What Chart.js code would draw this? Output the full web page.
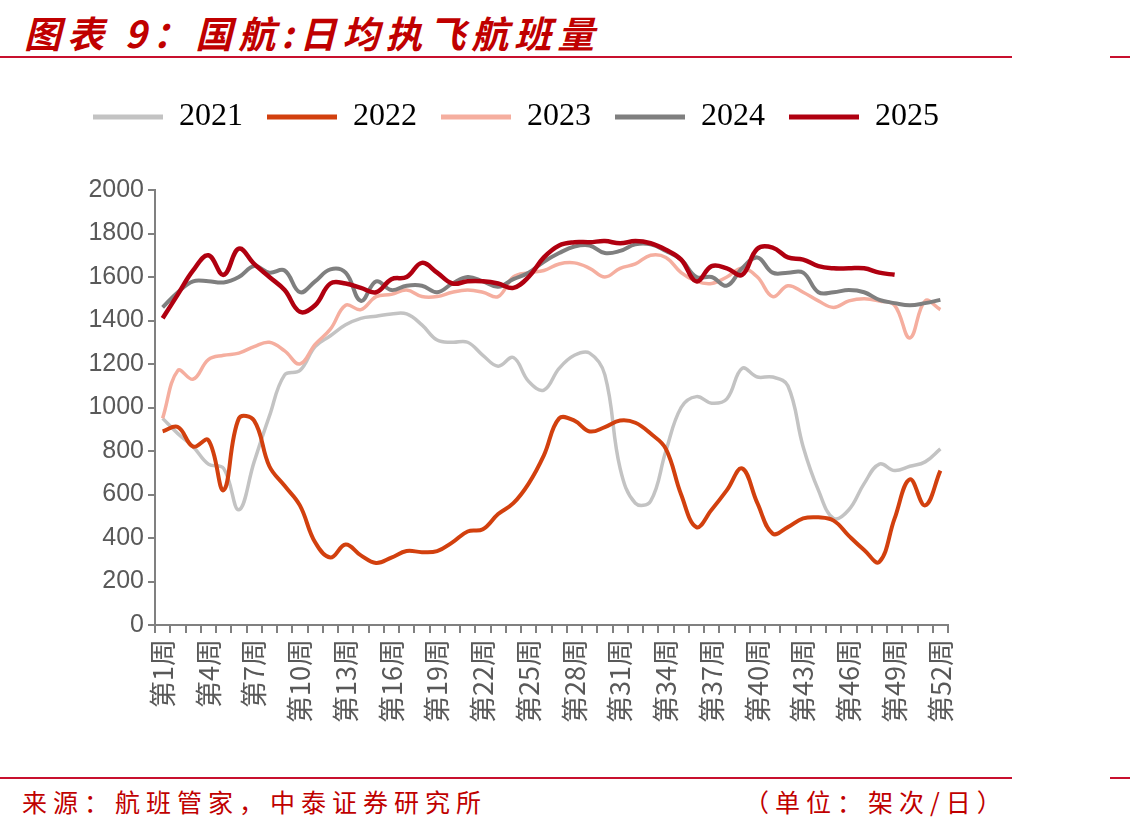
<!DOCTYPE html>
<html>
<head>
<meta charset="utf-8">
<script src="https://cdn.jsdelivr.net/npm/chart.js@4/dist/chart.umd.min.js"></script>
<style>
  html, body { margin:0; padding:0; background:#fff; }
  body { width:1130px; height:831px; position:relative; overflow:hidden; }
  .title {
    position:absolute; left:24px; top:5px;
    font:italic bold 37px "Noto Sans CJK SC", sans-serif;
    color:#C00000; letter-spacing:6px; white-space:nowrap;
  }
  .rule { position:absolute; height:2px; background:#C8102E; }
  .foot {
    position:absolute; top:783px;
    font:25px "Noto Sans CJK SC", sans-serif; color:#C00000; white-space:nowrap;
    letter-spacing:6px;
  }
  #wrap { position:absolute; left:0; top:77px; width:1032px; height:690px; }
</style>
</head>
<body>
<div class="title">图表 9：国航:日均执飞航班量</div>
<div class="rule" style="left:0;top:56px;width:1012px"></div>
<div class="rule" style="left:1110px;top:56px;width:20px"></div>

<div id="wrap"><canvas id="chart"></canvas></div>

<div class="rule" style="left:0;top:777px;width:1012px"></div>
<div class="rule" style="left:1110px;top:777px;width:20px"></div>
<div class="foot" style="left:22px">来源：航班管家，中泰证券研究所</div>
<div class="foot" style="left:744px">（单位：架次/日）</div>

<script>
/* ---------- data ---------- */
const weeks = Array.from({length:52}, (_, i) => `第${i+1}周`);
const yTicks = [0, 200, 400, 600, 800, 1000, 1200, 1400, 1600, 1800, 2000];

const y2021 = [950, 880, 820, 740, 720, 530, 750, 960, 1150, 1170,
               1280, 1330, 1380, 1410, 1420, 1430, 1430, 1380, 1310, 1300,
               1300, 1240, 1190, 1230, 1120, 1080, 1180, 1240, 1250, 1150,
               720, 560, 570, 800, 1000, 1050, 1020, 1040, 1180, 1140,
               1140, 1100, 820, 620, 490, 530, 650, 740, 710, 730,
               750, 810];
const y2022 = [890, 910, 820, 850, 620, 950, 940, 730, 640, 550,
               380, 310, 370, 320, 285, 310, 340, 335, 340, 380,
               430, 440, 510, 560, 650, 780, 950, 940, 890, 910,
               940, 930, 880, 810, 600, 450, 530, 620, 720, 560,
               420, 450, 490, 495, 480, 410, 345, 290, 490, 670,
               550, 710];
const y2023 = [950, 1170, 1130, 1220, 1240, 1250, 1280, 1300, 1260, 1200,
               1290, 1360, 1470, 1450, 1510, 1520, 1540, 1510, 1510, 1530,
               1540, 1530, 1510, 1600, 1620, 1630, 1660, 1665, 1640, 1600,
               1640, 1660, 1700, 1690, 1620, 1580, 1570, 1600, 1640, 1600,
               1510, 1560, 1530, 1490, 1460, 1490, 1500, 1490, 1470, 1320,
               1490, 1450];
const y2024 = [1460, 1530, 1580, 1580, 1575, 1600, 1650, 1620, 1630, 1530,
               1580, 1635, 1620, 1490, 1580, 1540, 1560, 1560, 1530, 1570,
               1600, 1580, 1555, 1590, 1620, 1670, 1710, 1740, 1745, 1710,
               1720, 1750, 1750, 1720, 1680, 1600, 1600, 1560, 1640, 1690,
               1620, 1620, 1620, 1530, 1530, 1540, 1530, 1495, 1480, 1470,
               1480, 1495];
const y2025 = [1410, 1520, 1630, 1700, 1610, 1730, 1660, 1600, 1540, 1440,
               1470, 1570, 1570, 1550, 1530, 1590, 1600, 1665, 1620, 1570,
               1580, 1580, 1570, 1550, 1600, 1690, 1745, 1760, 1760, 1765,
               1755, 1765, 1755, 1725, 1680, 1580, 1650, 1640, 1610, 1730,
               1735, 1690, 1680, 1650, 1640, 1640, 1640, 1620, 1610];

const seriesNames  = ['2021', '2022', '2023', '2024', '2025'];
const seriesValues = [y2021, y2022, y2023, y2024, y2025];
const seriesColors = ['#C3C3C3', '#D2400E', '#F5AE9F', '#7F7F7F', '#B00010'];
const seriesWidths = [3.5, 4, 3.5, 4, 4.5];

/* ---------- extra gap under the legend ---------- */
const legendGap = {
  id: 'legendGap',
  beforeInit(chart) {
    const fit = chart.legend.fit;
    chart.legend.fit = function () { fit.call(this); this.height += 47; };
  }
};

const axisGrey = '#808080';

new Chart(document.getElementById('chart'), {
  type: 'line',
  data: {
    labels: weeks,
    datasets: seriesNames.map((name, i) => ({
      label: name,
      data: seriesValues[i],
      borderColor: seriesColors[i],
      backgroundColor: seriesColors[i],
      borderWidth: seriesWidths[i],
      pointRadius: 0,
      tension: 0.4,
      order: seriesNames.length - i          // later years drawn on top
    }))
  },
  options: {
    responsive: true,
    maintainAspectRatio: false,
    animation: false,
    layout: { padding: 0 },
    plugins: {
      tooltip: { enabled: false },
      legend: {
        position: 'top',
        labels: {
          boxWidth: 70,
          boxHeight: 5,
          padding: 24,
          color: '#404040',
          font: { family: '"Liberation Serif", serif', size: 32 },
          generateLabels: chart => chart.data.datasets.map((ds, i) => ({
            text: ds.label,
            fillStyle: ds.borderColor,
            strokeStyle: ds.borderColor,
            lineWidth: 0,
            datasetIndex: i,
            hidden: false
          }))
        }
      }
    },
    scales: {
      x: {
        offset: true,
        grid: { offset: true, drawOnChartArea: false, drawTicks: true, tickLength: 8, color: axisGrey, lineWidth: 2 },
        border: { color: axisGrey, width: 2 },
        afterFit: s => { s.height = 142; },
        ticks: {
          autoSkip: false,
          maxRotation: 90,
          minRotation: 90,
          padding: 6,
          color: '#595959',
          font: { family: '"Noto Sans CJK SC", sans-serif', size: 27 },
          callback: (v, idx) => idx % 3 === 0 ? weeks[idx] : ''
        }
      },
      y: {
        min: yTicks[0],
        max: yTicks[yTicks.length - 1],
        afterFit: s => { s.width = 155; },
        afterBuildTicks: s => { s.ticks = yTicks.map(v => ({ value: v })); },
        grid: { drawOnChartArea: false, drawTicks: true, tickLength: 7, color: axisGrey, lineWidth: 2 },
        border: { color: axisGrey, width: 2 },
        ticks: {
          padding: 4,
          color: '#595959',
          font: { family: '"Liberation Sans", Arial, sans-serif', size: 25 },
          callback: v => String(v)
        }
      },
      /* empty right-hand spacer so the plot ends where the reference does */
      spacer: {
        type: 'linear',
        position: 'right',
        grid: { display: false },
        border: { display: false },
        ticks: { display: false },
        afterFit: s => { s.width = 84; }
      }
    }
  },
  plugins: [legendGap]
});
</script>
</body>
</html>
